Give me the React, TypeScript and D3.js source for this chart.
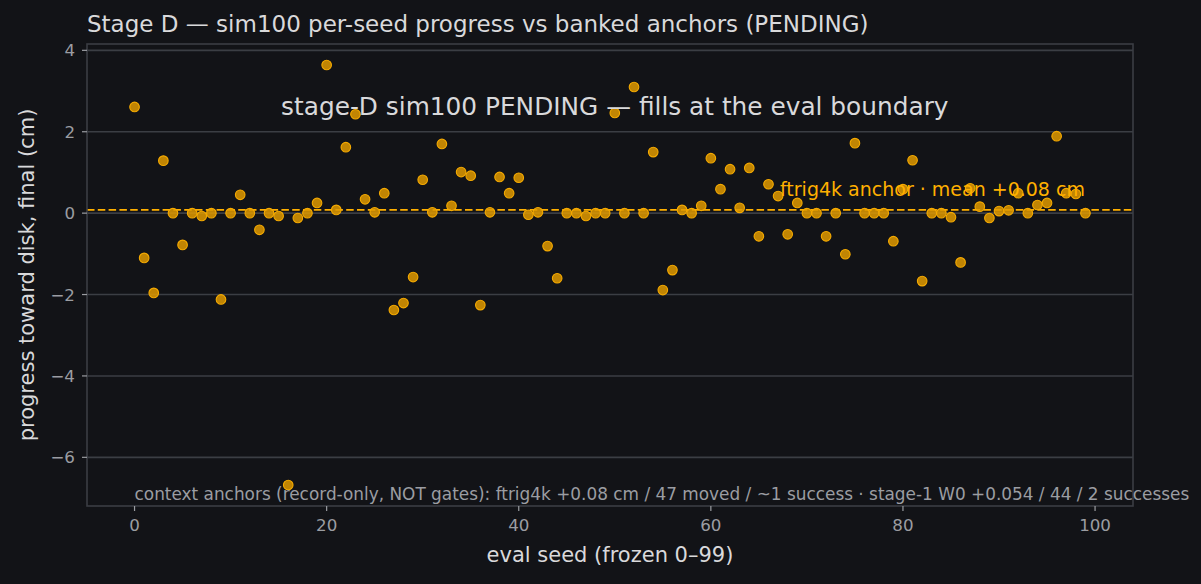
import { useEffect, useRef } from "react"
import * as d3 from "d3"

// per-seed final progress toward disk (cm), seeds 0..99
const seeds = d3.range(0, 100)
const progress = [
  2.61, -1.1, -1.96, 1.29, 0, -0.78, 0, -0.07, 0, -2.12,
  0, 0.45, 0, -0.41, 0, -0.07, -6.68, -0.12, 0, 0.25,
  3.64, 0.08, 1.62, 2.43, 0.34, 0.02, 0.49, -2.38, -2.21, -1.57,
  0.82, 0.02, 1.7, 0.18, 1.01, 0.92, -2.26, 0.02, 0.89, 0.49,
  0.87, -0.04, 0.02, -0.81, -1.6, 0, 0, -0.07, 0, 0,
  2.46, 0, 3.1, 0, 1.5, -1.89, -1.4, 0.08, 0, 0.18,
  1.35, 0.59, 1.08, 0.13, 1.11, -0.57, 0.71, 0.42, -0.52, 0.25,
  0, 0, -0.57, 0, -1.01, 1.72, 0, 0, 0, -0.69,
  0.59, 1.3, -1.67, 0, 0, -0.1, -1.21, 0.61, 0.16, -0.12,
  0.05, 0.07, 0.49, 0, 0.2, 0.25, 1.89, 0.49, 0.47, 0,
]
const anchorMean = 0.08
const xTicks = [0, 20, 40, 60, 80, 100]
const yTicks = [-6, -4, -2, 0, 2, 4]

const titleText = "Stage D — sim100 per-seed progress vs banked anchors (PENDING)"
const pendingText = "stage-D sim100 PENDING — fills at the eval boundary"
const anchorText = "ftrig4k anchor · mean +0.08 cm"
const contextText =
  "context anchors (record-only, NOT gates): ftrig4k +0.08 cm / 47 moved / ~1 success · stage-1 W0 +0.054 / 44 / 2 successes"

const W = 1201
const H = 584
const BG = "#121317"
const EDGE = "#3b3e44"
const TICK_TXT = "#9b9da2"
const TXT = "#d9d9db"
const GOLD = "#ffb000"
const FONT = "'DejaVu Sans', sans-serif"

export default function App() {
  const svgRef = useRef<SVGSVGElement>(null)

  useEffect(() => {
    document.body.style.margin = "0"
    document.body.style.background = BG
    if (!svgRef.current) return
    const root = d3.select(svgRef.current)
    root.selectAll("*").remove()

    const margin = { top: 44, right: 68, bottom: 78, left: 87 }
    const width = W - margin.left - margin.right
    const height = H - margin.top - margin.bottom

    root.append("rect").attr("width", W).attr("height", H).attr("fill", BG)

    const g = root.append("g").attr("transform", `translate(${margin.left},${margin.top})`)

    const ext = d3.extent(progress) as [number, number]
    const yPad = (ext[1] - ext[0]) * 0.05
    const xPad = 99 * 0.05
    const x = d3.scaleLinear().domain([-xPad, 99 + xPad]).range([0, width])
    const y = d3.scaleLinear().domain([ext[0] - yPad, ext[1] + yPad]).range([height, 0])

    // grid
    g.selectAll(".grid")
      .data(yTicks)
      .enter()
      .append("line")
      .attr("x1", 0)
      .attr("x2", width)
      .attr("y1", (d) => y(d))
      .attr("y2", (d) => y(d))
      .attr("stroke", EDGE)
      .attr("stroke-width", 1.6)

    // anchor line
    g.append("line")
      .attr("x1", 0)
      .attr("x2", width)
      .attr("y1", y(anchorMean))
      .attr("y2", y(anchorMean))
      .attr("stroke", GOLD)
      .attr("stroke-width", 1.8)
      .attr("stroke-dasharray", "7.5,3.3")

    // points
    g.selectAll(".pt")
      .data(seeds)
      .enter()
      .append("circle")
      .attr("cx", (d) => x(d))
      .attr("cy", (d) => y(progress[d]))
      .attr("r", 4.8)
      .attr("fill", "#e09a00")
      .attr("fill-opacity", 0.85)
      .attr("stroke", "#f5aa00")
      .attr("stroke-width", 1.1)

    // spines
    g.append("rect")
      .attr("width", width)
      .attr("height", height)
      .attr("fill", "none")
      .attr("stroke", EDGE)
      .attr("stroke-width", 1.6)

    // ticks
    const yAxis = g.append("g")
    yAxis
      .selectAll("line")
      .data(yTicks)
      .enter()
      .append("line")
      .attr("x1", -5)
      .attr("x2", 0)
      .attr("y1", (d) => y(d))
      .attr("y2", (d) => y(d))
      .attr("stroke", TICK_TXT)
      .attr("stroke-width", 1.2)
    yAxis
      .selectAll("text")
      .data(yTicks)
      .enter()
      .append("text")
      .attr("x", -12)
      .attr("y", (d) => y(d))
      .attr("dy", "0.36em")
      .attr("text-anchor", "end")
      .attr("fill", TICK_TXT)
      .style("font-size", "16.7px")
      .style("font-family", FONT)
      .text((d) => (d < 0 ? "\u2212" + Math.abs(d) : String(d)))

    const xAxis = g.append("g").attr("transform", `translate(0,${height})`)
    xAxis
      .selectAll("line")
      .data(xTicks)
      .enter()
      .append("line")
      .attr("x1", (d) => x(d))
      .attr("x2", (d) => x(d))
      .attr("y1", 0)
      .attr("y2", 5)
      .attr("stroke", TICK_TXT)
      .attr("stroke-width", 1.2)
    xAxis
      .selectAll("text")
      .data(xTicks)
      .enter()
      .append("text")
      .attr("x", (d) => x(d))
      .attr("y", 25)
      .attr("text-anchor", "middle")
      .attr("fill", TICK_TXT)
      .style("font-size", "16.7px")
      .style("font-family", FONT)
      .text((d) => String(d))

    // axis labels
    g.append("text")
      .attr("x", width / 2)
      .attr("y", height + 56)
      .attr("text-anchor", "middle")
      .attr("fill", TXT)
      .style("font-size", "21px")
      .style("font-family", FONT)
      .text("eval seed (frozen 0–99)")

    g.append("text")
      .attr("transform", `translate(${-margin.left + 34},${height / 2}) rotate(-90)`)
      .attr("text-anchor", "middle")
      .attr("fill", TXT)
      .style("font-size", "21px")
      .style("font-family", FONT)
      .text("progress toward disk, final (cm)")

    // annotations
    g.append("text")
      .attr("x", x(50))
      .attr("y", y(2.64))
      .attr("dy", "0.36em")
      .attr("text-anchor", "middle")
      .attr("fill", TXT)
      .style("font-size", "24.8px")
      .style("font-family", FONT)
      .text(pendingText)

    g.append("text")
      .attr("x", x(67.2))
      .attr("y", y(anchorMean) - 14)
      .attr("fill", GOLD)
      .style("font-size", "19px")
      .style("font-family", FONT)
      .text(anchorText)

    g.append("text")
      .attr("x", x(0))
      .attr("y", height - 6)
      .attr("fill", TICK_TXT)
      .style("font-size", "16.9px")
      .style("font-family", FONT)
      .text(contextText)

    // title
    root
      .append("text")
      .attr("x", margin.left)
      .attr("y", 32)
      .attr("fill", TXT)
      .style("font-size", "23px")
      .style("font-family", FONT)
      .text(titleText)
  }, [])

  return <svg ref={svgRef} width={W} height={H} style={{ display: "block" }} />
}
